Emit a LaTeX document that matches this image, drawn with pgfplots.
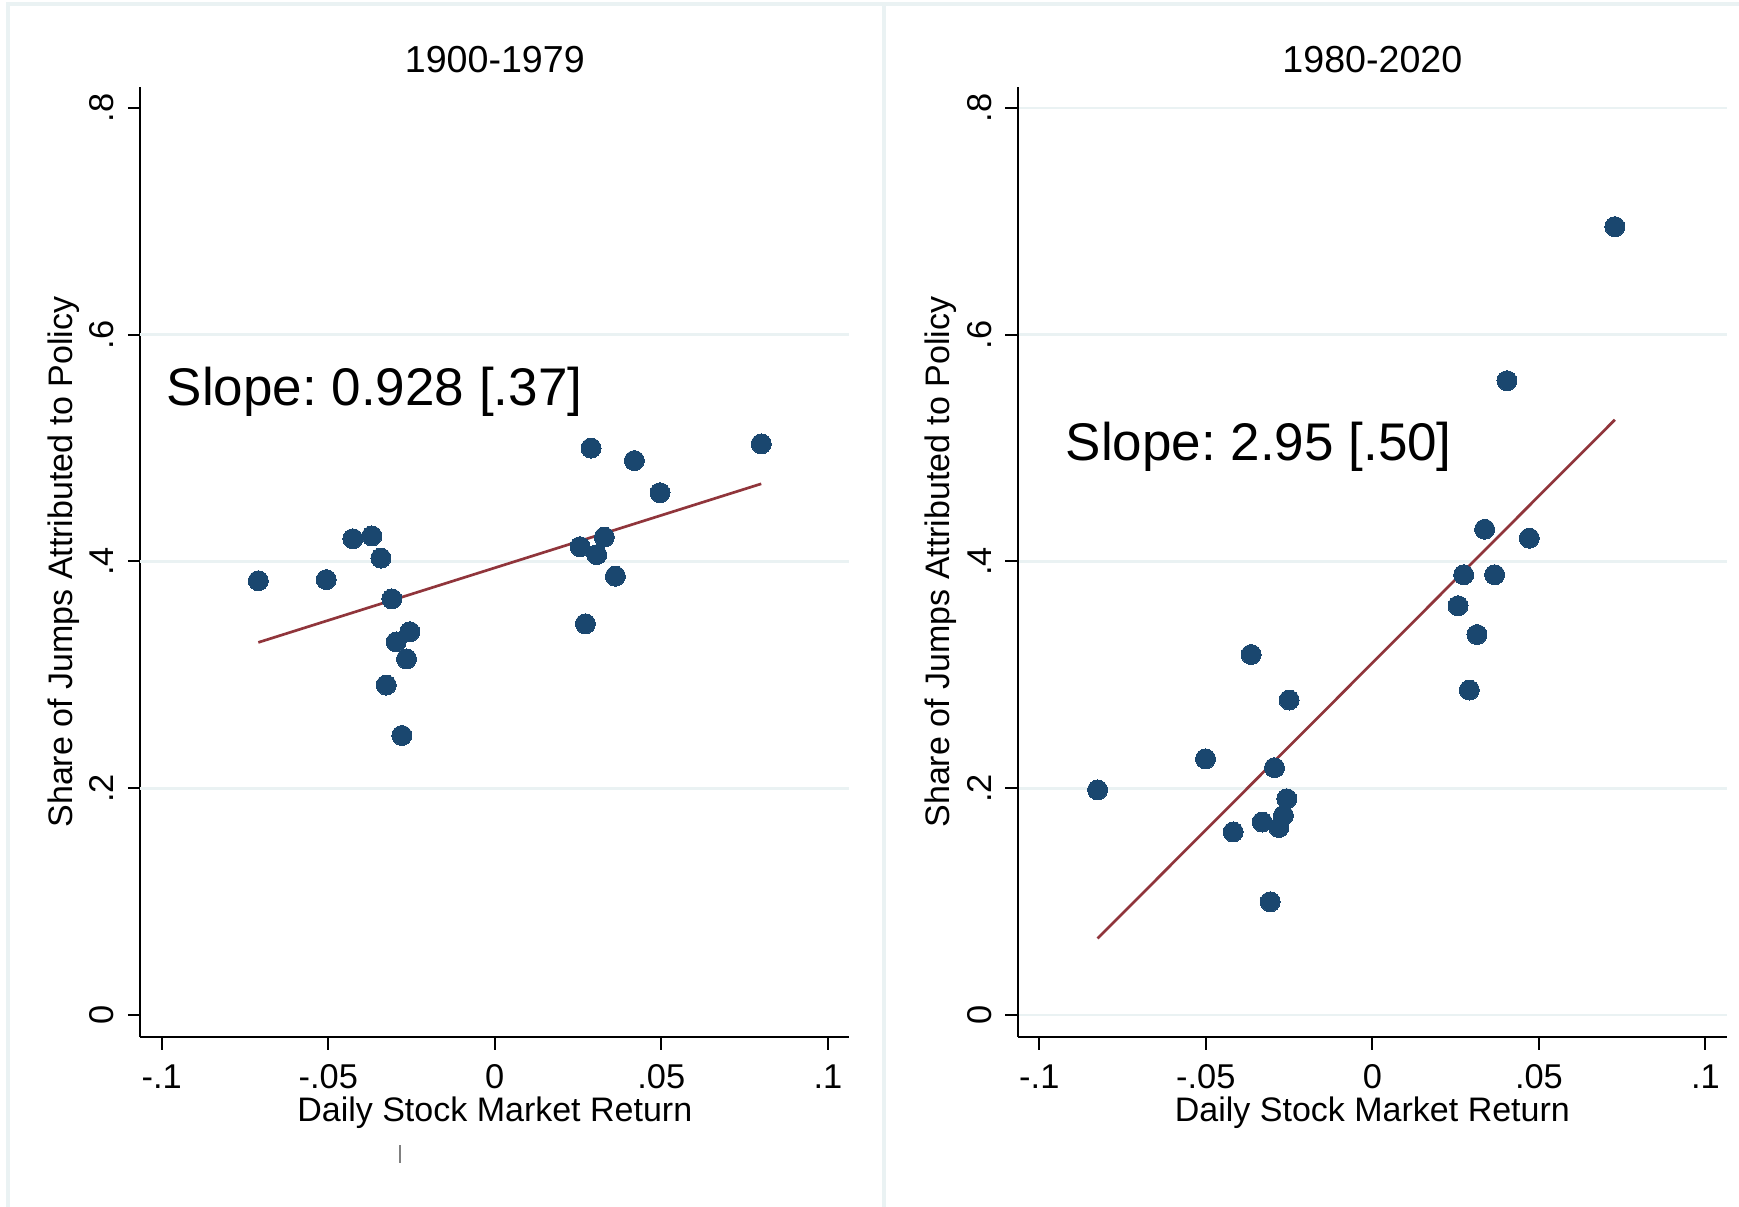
\documentclass[border=0pt]{standalone}
\usepackage{fontspec}
\setmainfont{Liberation Sans}
\usepackage{pgfplots}
\pgfplotsset{compat=1.18}
\frenchspacing
\definecolor{stnavy}{RGB}{26,71,111}
\definecolor{stmaroon}{RGB}{144,53,59}
\definecolor{stgrid}{RGB}{234,242,243}

\pgfplotsset{
  stpanel/.style={
    scale only axis, width=177.2pt, height=237.5pt,
    xmin=-0.1064, xmax=0.1064, ymin=-0.0194, ymax=0.8185,
    axis x line*=bottom, axis y line*=left,
    axis line style={line width=0.5pt, black},
    tick align=outside, major tick length=3.15pt,
    tick style={line width=0.5pt, black},
    xtick={-0.1,-0.05,0,0.05,0.1}, xticklabels={-.1,-.05,0,.05,.1},
    ytick={0,0.2,0.4,0.6,0.8}, yticklabels={0,.2,.4,.6,.8},
    grid style={stgrid, line width=0.7pt},
    tick label style={font=\fontsize{8.6}{10}\selectfont},
    xticklabel style={anchor=base, yshift=-9.75pt},
    yticklabel style={xshift=-3.6pt, rotate=90, anchor=base},
    label style={font=\fontsize{8.5}{10}\selectfont},
    xlabel={Daily Stock Market Return},
    xlabel style={at={(axis description cs:0.5,0)}, anchor=base, yshift=-21.25pt},
    ylabel={Share of Jumps Attributed to Policy},
    ylabel style={at={(axis description cs:-0.0964,0.5)}, anchor=base},
    title style={font=\fontsize{9.4}{11}\selectfont, at={(axis description cs:0.5,1)}, anchor=base, yshift=-2.3pt},
    clip=false,
  },
  dots/.style={only marks, mark=*, mark size=2.5pt, mark options={fill=stnavy, draw=stnavy, line width=0pt}},
  fit/.style={stmaroon, line width=0.67pt},
}

\begin{document}
\begin{tikzpicture}
\useasboundingbox (0,0) rectangle (434.75pt,301.75pt);
% panel frames from the combined graph
\draw[stgrid, line width=1pt] (2pt,0) -- (2pt,300.75pt) -- (434.75pt,300.75pt);
\draw[stgrid, line width=1pt] (221pt,0) -- (221pt,300.75pt);
\draw[gray, line width=0.3pt] (100pt,11pt) -- (100pt,15.5pt);

\begin{axis}[stpanel, at={(35.1pt,42.5pt)}, anchor=south west, title={1900-1979},
  extra y ticks={0.2,0.4,0.6}, extra y tick labels={},
  extra y tick style={ymajorgrids=true, major tick length=0pt}]
\addplot[dots] coordinates {
  (-0.0710,0.383) (-0.0506,0.384) (-0.0426,0.420) (-0.0369,0.4225)
  (-0.0342,0.403) (-0.0309,0.367) (-0.0296,0.329) (-0.0255,0.338)
  (-0.0265,0.314) (-0.0326,0.291) (-0.0279,0.2465) (0.0256,0.413)
  (0.0272,0.345) (0.0289,0.500) (0.0306,0.406) (0.0329,0.4215)
  (0.0362,0.387) (0.0419,0.489) (0.0496,0.4606) (0.0800,0.5037)
};
\addplot[fit] coordinates {(-0.0710,0.3286) (0.0800,0.4685)};
\node[anchor=base west, inner sep=0pt, font=\fontsize{13.25}{15}\selectfont] at (axis cs:-0.0987,0.538) {Slope: 0.928 [.37]};
\end{axis}

\begin{axis}[stpanel, at={(254.5pt,42.5pt)}, anchor=south west, title={1980-2020}, ymajorgrids]
\addplot[dots] coordinates {
  (-0.0825,0.1985) (-0.0501,0.2259) (-0.0418,0.1614) (-0.0364,0.3179)
  (-0.0331,0.1702) (-0.0307,0.0998) (-0.0294,0.2181) (-0.0281,0.1653)
  (-0.0267,0.176) (-0.0257,0.1907) (-0.0250,0.2778) (0.0257,0.3609)
  (0.0274,0.3883) (0.0291,0.2866) (0.0314,0.3355) (0.0337,0.4284)
  (0.0367,0.3883) (0.0404,0.5594) (0.0471,0.4205) (0.0728,0.6953)
};
\addplot[fit] coordinates {(-0.0825,0.0675) (0.0728,0.525)};
\node[anchor=base west, inner sep=0pt, font=\fontsize{13.25}{15}\selectfont] at (axis cs:-0.0923,0.489) {Slope: 2.95 [.50]};
\end{axis}
\end{tikzpicture}
\end{document}
